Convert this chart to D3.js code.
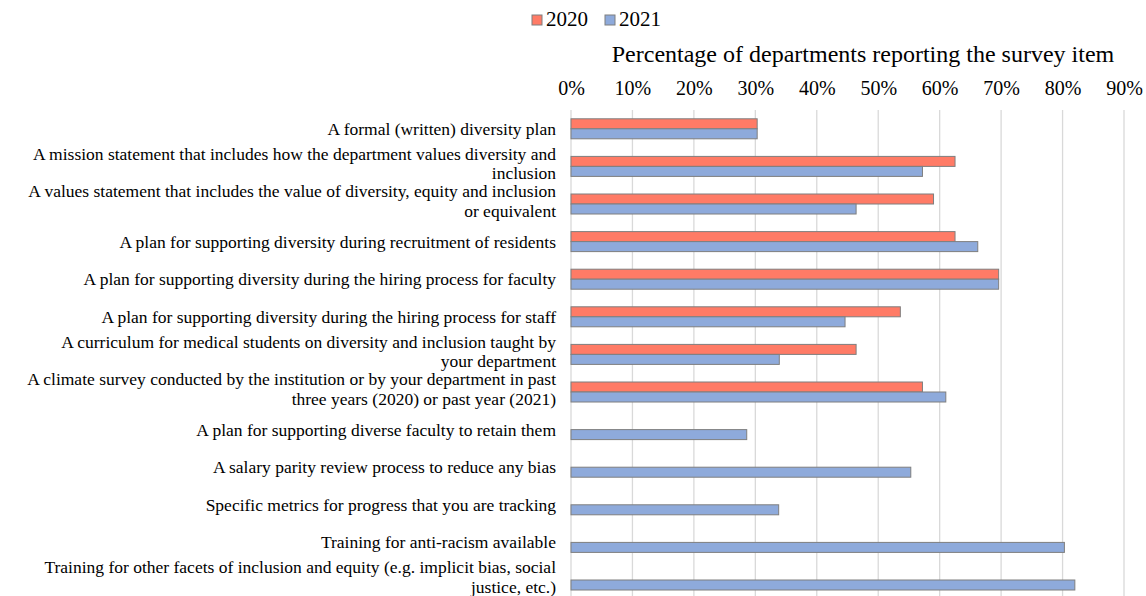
<!DOCTYPE html>
<html>
<head>
<meta charset="utf-8">
<script src="https://cdn.jsdelivr.net/npm/d3@7"></script>
<style>
  body { margin: 0; background: #fff; }
  svg text { font-family: 'Liberation Serif', 'Times New Roman', Times, serif; }
</style>
</head>
<body>
<div id="chart"></div>
<script>
// survey items, top to bottom (line breaks as in the source figure)
const items = [
    ['A formal (written) diversity plan'],
    ['A mission statement that includes how the department values diversity and', 'inclusion'],
    ['A values statement that includes the value of diversity, equity and inclusion', 'or equivalent'],
    ['A plan for supporting diversity during recruitment of residents'],
    ['A plan for supporting diversity during the hiring process for faculty'],
    ['A plan for supporting diversity during the hiring process for staff'],
    ['A curriculum for medical students on diversity and inclusion taught by', 'your department'],
    ['A climate survey conducted by the institution or by your department in past', 'three years (2020) or past year (2021)'],
    ['A plan for supporting diverse faculty to retain them'],
    ['A salary parity review process to reduce any bias'],
    ['Specific metrics for progress that you are tracking'],
    ['Training for anti-racism available'],
    ['Training for other facets of inclusion and equity (e.g. implicit bias, social', 'justice, etc.)']
];

const years = ['2020', '2021'];

// percent of departments, null = item not asked that year
const values2020 = [30.3, 62.5, 59.0, 62.5, 69.6, 53.6, 46.4, 57.2, null, null, null, null, null];
const values2021 = [30.3, 57.2, 46.4, 66.2, 69.6, 44.6, 33.9, 61.0, 28.6, 55.3, 33.8, 80.3, 82.0];

const ticks = [0, 10, 20, 30, 40, 50, 60, 70, 80, 90];
const colors = { '2020': '#ff7b66', '2021': '#8eaadb' };

const width = 1146, height = 596;
const margin = { top: 110, left: 571, right: 22 };
const rowH = 37.6;

const svg = d3.select('#chart').append('svg')
    .attr('width', width)
    .attr('height', height);

const x = d3.scaleLinear()
    .domain([0, 90])
    .range([margin.left, width - margin.right]);

const y = d3.scaleBand()
    .domain(d3.range(items.length))
    .range([margin.top, margin.top + rowH * items.length]);

const inner = d3.scaleBand()
    .domain(years)
    .range([y.bandwidth() / 2 - 10, y.bandwidth() / 2 + 10]);

// gridlines
svg.append('g').attr('class', 'grid')
    .selectAll('line').data(ticks).join('line')
    .attr('x1', d => x(d)).attr('x2', d => x(d))
    .attr('y1', margin.top).attr('y2', height)
    .attr('stroke', '#d9d9d9')
    .attr('stroke-width', 1.3);

// top axis labels
const axis = svg.append('g')
    .attr('transform', `translate(0, 95)`)
    .call(d3.axisTop(x).tickValues(ticks).tickSize(0).tickPadding(0).tickFormat(d => d + '%'));
axis.select('.domain').remove();
axis.attr('font-family', null);
axis.selectAll('text')
    .attr('font-size', 20)
    .attr('fill', '#000');

// axis title
svg.append('text')
    .attr('x', 863).attr('y', 62)
    .attr('text-anchor', 'middle')
    .attr('font-size', 24)
    .text('Percentage of departments reporting the survey item');

// legend
const legend = svg.append('g').attr('transform', 'translate(532, 15)');
const lg = legend.selectAll('g').data(years).join('g')
    .attr('transform', (d, i) => `translate(${i * 73}, 0)`);
lg.append('rect')
    .attr('width', 10).attr('height', 10)
    .attr('fill', d => colors[d])
    .attr('stroke', '#7f7f7f').attr('stroke-width', 1);
lg.append('text')
    .attr('x', 14).attr('y', 11)
    .attr('font-size', 21)
    .text(d => d);

// bars
const rows = items.map((lab, i) => ({
    i,
    lab,
    vals: [
        { year: '2020', v: values2020[i] },
        { year: '2021', v: values2021[i] }
    ].filter(d => d.v !== null)
}));

const rowG = svg.append('g').selectAll('g').data(rows).join('g')
    .attr('transform', d => `translate(0, ${y(d.i)})`);

rowG.selectAll('rect').data(d => d.vals).join('rect')
    .attr('x', x(0))
    .attr('y', d => inner(d.year))
    .attr('width', d => x(d.v) - x(0))
    .attr('height', inner.bandwidth())
    .attr('fill', d => colors[d.year])
    .attr('stroke', '#7f7f7f')
    .attr('stroke-width', 1);

// category labels
const labels = rowG.append('text')
    .attr('text-anchor', 'end')
    .attr('font-size', 17.5)
    .attr('fill', '#000');
labels.selectAll('tspan').data(d => d.lab.map((t, k) => ({ t, k, n: d.lab.length }))).join('tspan')
    .attr('x', 556)
    .attr('y', d => y.bandwidth() / 2 + (d.n > 1 ? 3 : 6) + (d.k - (d.n - 1) / 2) * 19.4)
    .text(d => d.t);
</script>
</body>
</html>
